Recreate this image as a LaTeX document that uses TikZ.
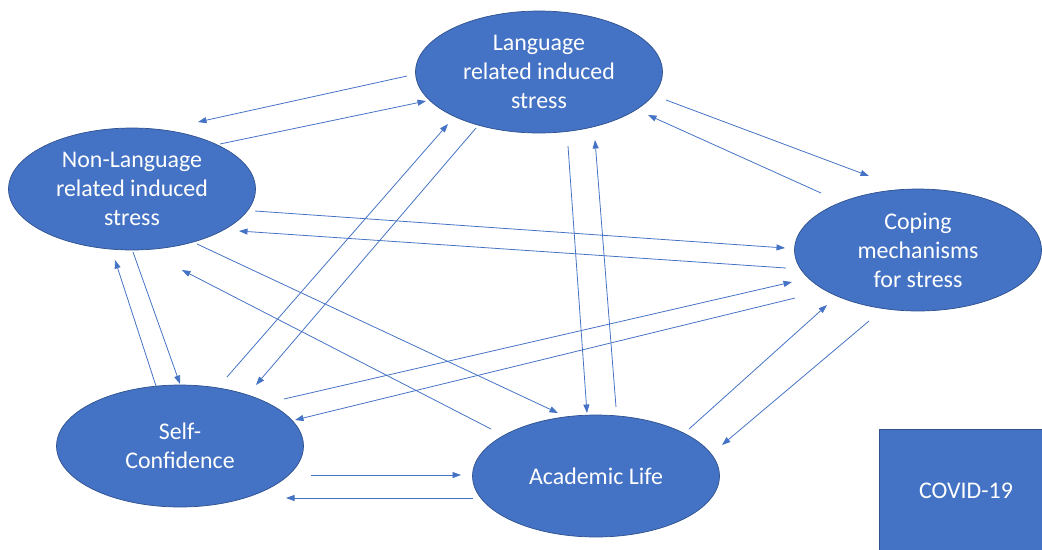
\documentclass[tikz,border=0pt]{standalone}
\usepackage{fontspec}
\setmainfont{Carlito}
\usetikzlibrary{shapes.geometric}
\usetikzlibrary{arrows.meta}
\definecolor{officeblue}{HTML}{4472C4}
\definecolor{officeedge}{HTML}{2F528F}

\begin{document}
\begin{tikzpicture}[x=0.02cm, y=-0.02cm, 
  main/.style = {draw=officeedge, line width=0.4pt, fill=officeblue, ellipse, inner sep=0pt, minimum width=4.94cm, minimum height=2.44cm, text=white, align=center, font=\fontsize{13.6}{16.5}\selectfont},
  box/.style = {draw=officeedge, line width=0.4pt, fill=officeblue, inner sep=0pt, minimum width=3.48cm, minimum height=2.48cm, text=white, font=\fontsize{13.6}{16.5}\selectfont},
  arr/.style = {draw=officeblue, line width=0.45pt, -{Triangle[length=0.17cm, width=0.12cm]}}] 
  \useasboundingbox (0,0) rectangle (1042,549);
  \node[main] (lang) at (539,72) {Language\\related induced\\stress}; 
  \node[main] (nonlang) at (132,189) {Non-Language\\related induced\\stress}; 
  \node[main] (cope) at (918,250) {Coping\\mechanisms\\for stress}; 
  \node[main] (self) at (180,446) {Self-\\Confidence}; 
  \node[main] (acad) at (596,476) {Academic Life}; 
  \node[box] (covid) at (966,491) {COVID-19}; 
  \draw[arr] ([shift={(-132,4)}]lang.center) to ([shift={(66,-67)}]nonlang.center);
  \draw[arr] ([shift={(88,-45)}]nonlang.center) to ([shift={(-113,29)}]lang.center);
  \draw[arr] ([shift={(123,22)}]nonlang.center) to ([shift={(-133,-2)}]cope.center);
  \draw[arr] ([shift={(-132,18)}]cope.center) to ([shift={(107,42)}]nonlang.center);
  \draw[arr] ([shift={(65,55)}]nonlang.center) to ([shift={(-38,-63)}]acad.center);
  \draw[arr] ([shift={(-105,-47)}]acad.center) to ([shift={(50,81)}]nonlang.center);
  \draw[arr] ([shift={(1,63)}]nonlang.center) to ([shift={(0,-62)}]self.center);
  \draw[arr] ([shift={(-24,-60)}]self.center) to ([shift={(-17,71)}]nonlang.center);
  \draw[arr] ([shift={(47,-69)}]self.center) to ([shift={(-91,52)}]lang.center);
  \draw[arr] ([shift={(-63,56)}]lang.center) to ([shift={(76,-61)}]self.center);
  \draw[arr] ([shift={(29,74)}]lang.center) to ([shift={(-9,-63)}]acad.center);
  \draw[arr] ([shift={(20,-69)}]acad.center) to ([shift={(56,68)}]lang.center);
  \draw[arr] ([shift={(127,28)}]lang.center) to ([shift={(-49,-74)}]cope.center);
  \draw[arr] ([shift={(-97,-57)}]cope.center) to ([shift={(109,43)}]lang.center);
  \draw[arr] ([shift={(104,-47)}]self.center) to ([shift={(-126,32)}]cope.center);
  \draw[arr] ([shift={(-123,48)}]cope.center) to ([shift={(115,-26)}]self.center);
  \draw[arr] ([shift={(93,-47)}]acad.center) to ([shift={(-91,55)}]cope.center);
  \draw[arr] ([shift={(-49,71)}]cope.center) to ([shift={(126,-31)}]acad.center);
  \draw[arr] ([shift={(131,29)}]self.center) to ([shift={(-135,-1)}]acad.center);
  \draw[arr] ([shift={(-123,22)}]acad.center) to ([shift={(106,52)}]self.center);
\end{tikzpicture}
\end{document}
